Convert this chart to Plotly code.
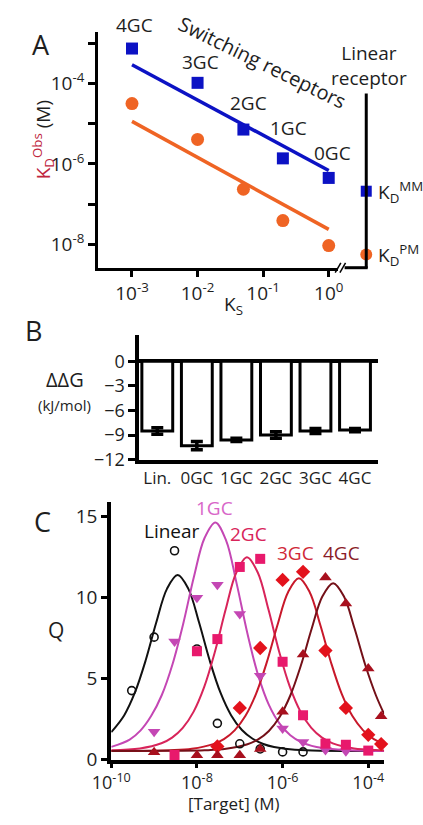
import plotly.graph_objects as go

W, H = 423, 825
FONT = "Open Sans"
INK = "#1e1e1e"

def fx(px):
    return px / W

def fy(py):
    return 1 - py / H

# ---------------- Panel A data ----------------
ks = [1e-3, 1e-2, 0.05, 0.2, 1.0]
ks_labels = ["4GC", "3GC", "2GC", "1GC", "0GC"]
kd_mm = [7.5e-4, 1.05e-4, 7.2e-6, 1.38e-6, 4.5e-7]
kd_pm = [3.2e-5, 4.1e-6, 2.35e-7, 3.9e-8, 9.3e-9]
fit_ks = [1e-3, 1.0]
fit_mm = [2.95e-4, 6.9e-7]
fit_pm = [1.15e-5, 2.35e-8]
lin_cat = ["Linear receptor"]
lin_kd_mm = [2.1e-7]
lin_kd_pm = [5.6e-9]
a_ytick_vals = [1e-3, 1e-4, 1e-5, 1e-6, 1e-7, 1e-8]
a_ytick_text = ["", "10<sup>-4</sup>", "", "10<sup>-6</sup>", "", "10<sup>-8</sup>"]
a_xtick_vals = [1e-3, 1e-2, 1e-1, 1.0]
a_xtick_text = ["10<sup>-3</sup>", "10<sup>-2</sup>", "10<sup>-1</sup>", "10<sup>0</sup>"]

# ---------------- Panel B data ----------------
b_cats = ["Lin.", "0GC", "1GC", "2GC", "3GC", "4GC"]
b_ddg = [-8.5, -10.3, -9.6, -9.0, -8.5, -8.4]
b_err = [0.4, 0.5, 0.2, 0.4, 0.3, 0.2]
b_ytick = [0, -3, -6, -9, -12]

# ---------------- Panel C data ----------------
lin_conc = [3e-10, 1e-9, 3e-9, 1e-8, 3e-8, 1e-7, 3e-7, 1e-6, 3e-6]
lin_pts = [4.27, 7.57, 12.9, 6.84, 2.25, 0.99, 0.67, 0.49, 0.49]
g1_conc = [1e-9, 3e-9, 1e-8, 3e-8, 1e-7, 3e-7, 1e-6, 3e-6, 1e-5, 3e-5]
g1_pts = [1.74, 7.3, 10.0, 10.8, 9.0, 5.18, 1.94, 1.1, 0.6, 0.53]
g2_conc = [3e-9, 1e-8, 3e-8, 1e-7, 3e-7, 1e-6, 3e-6, 1e-5, 3e-5, 1e-4]
g2_pts = [0.3, 6.7, 7.45, 11.9, 12.4, 6.05, 2.75, 1.0, 0.93, 0.57]
g3_conc = [3e-8, 1e-7, 3e-7, 1e-6, 3e-6, 1e-5, 3e-5, 1e-4, 2e-4]
g3_pts = [0.83, 3.2, 6.9, 11.1, 11.6, 6.74, 3.2, 1.54, 0.97]
g4_conc = [1e-9, 1e-8, 3e-8, 1e-7, 3e-7, 1e-6, 3e-6, 1e-5, 3e-5, 1e-4, 2e-4]
g4_pts = [0.47, 0.28, 0.28, 0.28, 0.67, 2.96, 6.5, 11.25, 9.64, 5.63, 2.69]

lin_curve_exp = [-10.0, -9.7, -9.45, -9.2, -8.95, -8.7, -8.45, -8.2, -7.95, -7.7, -7.45, -7.2, -6.95, -6.7, -6.45, -6.2, -5.95, -5.45, -4.45, -3.63]
lin_curve_q = [1.71, 2.74, 4.14, 6.11, 8.47, 10.55, 11.40, 10.55, 8.47, 6.11, 4.14, 2.74, 1.84, 1.30, 0.98, 0.79, 0.69, 0.59, 0.55, 0.55]
g1_curve_exp = [-10.0, -9.57, -9.32, -9.07, -8.82, -8.57, -8.32, -8.07, -7.82, -7.57, -7.32, -7.07, -6.82, -6.57, -6.32, -6.07, -5.82, -5.57, -5.32, -5.07, -4.57, -3.63]
g1_curve_q = [0.80, 1.25, 1.80, 2.70, 4.00, 5.90, 8.40, 11.30, 13.70, 14.65, 13.54, 10.84, 7.78, 5.21, 3.39, 2.23, 1.52, 1.10, 0.86, 0.73, 0.61, 0.55]
g2_curve_exp = [-10.0, -9.33, -8.83, -8.58, -8.33, -8.08, -7.83, -7.58, -7.33, -7.08, -6.83, -6.58, -6.33, -6.08, -5.83, -5.58, -5.33, -5.08, -4.83, -4.58, -4.33, -3.83, -3.63]
g2_curve_q = [0.59, 0.70, 1.02, 1.37, 1.97, 2.96, 4.50, 6.67, 9.27, 11.56, 12.50, 11.56, 9.27, 6.67, 4.50, 2.96, 1.97, 1.37, 1.02, 0.82, 0.70, 0.60, 0.58]
g3_curve_exp = [-10.0, -9.0, -8.62, -8.12, -7.62, -7.37, -7.12, -6.87, -6.62, -6.37, -6.12, -5.87, -5.62, -5.37, -5.12, -4.87, -4.62, -4.37, -4.12, -3.87, -3.63]
g3_curve_q = [0.55, 0.56, 0.59, 0.68, 0.97, 1.28, 1.82, 2.70, 4.07, 6.01, 8.32, 10.36, 11.20, 10.36, 8.32, 6.01, 4.07, 2.70, 1.82, 1.28, 0.98]
g4_curve_exp = [-10.0, -8.5, -7.82, -7.32, -6.82, -6.57, -6.32, -6.07, -5.82, -5.57, -5.32, -5.07, -4.82, -4.57, -4.32, -4.07, -3.82, -3.63]
g4_curve_q = [0.55, 0.56, 0.59, 0.68, 0.96, 1.26, 1.78, 2.64, 3.97, 5.85, 8.10, 10.09, 10.90, 10.09, 8.10, 5.85, 3.97, 2.83]
c_xtick_vals = [1e-10, 1e-8, 1e-6, 1e-4]
c_xtick_text = ["10<sup>-10</sup>", "10<sup>-8</sup>", "10<sup>-6</sup>", "10<sup>-4</sup>"]
c_ytick = [0, 5, 10, 15]

BLUE = "#0c12c4"
ORANGE = "#ef6424"
C_LIN = "#111111"
C_1 = "#c447b4"
C_1L = "#d866c8"
C_2 = "#e8196c"
C_2L = "#d8245a"
C_3 = "#e3121c"
C_3L = "#c8182a"
C_4 = "#a8101e"
C_4L = "#741018"

fig = go.Figure()

# ---------- Panel A traces ----------
fig.add_trace(go.Scatter(x=fit_ks, y=fit_mm, mode="lines", line=dict(color=BLUE, width=3.5), xaxis="x", yaxis="y", showlegend=False))
fig.add_trace(go.Scatter(x=fit_ks, y=fit_pm, mode="lines", line=dict(color=ORANGE, width=3.5), xaxis="x", yaxis="y", showlegend=False))
fig.add_trace(go.Scatter(x=ks, y=kd_mm, mode="markers", marker=dict(symbol="square", size=12, color=BLUE), xaxis="x", yaxis="y", showlegend=False, cliponaxis=False))
fig.add_trace(go.Scatter(x=ks, y=kd_pm, mode="markers", marker=dict(symbol="circle", size=13, color=ORANGE), xaxis="x", yaxis="y", showlegend=False, cliponaxis=False))
fig.add_trace(go.Scatter(x=lin_cat, y=lin_kd_mm, mode="markers", marker=dict(symbol="square", size=11, color=BLUE), xaxis="x2", yaxis="y", showlegend=False, cliponaxis=False))
fig.add_trace(go.Scatter(x=lin_cat, y=lin_kd_pm, mode="markers", marker=dict(symbol="circle", size=12, color=ORANGE), xaxis="x2", yaxis="y", showlegend=False, cliponaxis=False))

# ---------- Panel B traces ----------
fig.add_trace(go.Bar(x=b_cats, y=b_ddg, width=0.78, marker=dict(color="white", line=dict(color="black", width=3)),
                     error_y=dict(type="data", array=b_err, color="black", thickness=3.5, width=6),
                     xaxis="x3", yaxis="y3", showlegend=False))

# ---------- Panel C traces ----------
curves = [
    (lin_curve_exp, lin_curve_q, C_LIN),
    (g1_curve_exp, g1_curve_q, C_1),
    (g2_curve_exp, g2_curve_q, C_2L),
    (g3_curve_exp, g3_curve_q, C_3L),
    (g4_curve_exp, g4_curve_q, C_4L),
]
for ex, q, col in curves:
    fig.add_trace(go.Scatter(x=[10 ** e for e in ex], y=q, mode="lines", line=dict(color=col, width=2, shape="spline", smoothing=1.0),
                             xaxis="x4", yaxis="y4", showlegend=False))

pts = [
    (lin_conc, lin_pts, dict(symbol="circle-open", size=8, color=C_LIN, line=dict(width=1.6, color=C_LIN))),
    (g1_conc, g1_pts, dict(symbol="triangle-down", size=11, color=C_1)),
    (g2_conc, g2_pts, dict(symbol="square", size=10, color=C_2)),
    (g3_conc, g3_pts, dict(symbol="diamond", size=11, color=C_3)),
    (g4_conc, g4_pts, dict(symbol="triangle-up", size=11, color=C_4)),
]
for xs, q, mk in pts:
    fig.add_trace(go.Scatter(x=xs, y=q, mode="markers", marker=mk, xaxis="x4", yaxis="y4", showlegend=False, cliponaxis=False))

tickfont = dict(family=FONT, size=19, color=INK)
axis_common = dict(showgrid=False, zeroline=False, linecolor="black", tickcolor="black", tickfont=tickfont)

fig.update_layout(
    width=W, height=H, margin=dict(l=0, r=0, t=0, b=0),
    paper_bgcolor="white", plot_bgcolor="rgba(0,0,0,0)",
    font=dict(family=FONT, color=INK),
    xaxis=dict(domain=[fx(83), fx(338)], anchor="y", type="log", range=[-3.517, 0.142],
               tickvals=a_xtick_vals, ticktext=a_xtick_text, ticks="outside", ticklen=6, tickwidth=3,
               showline=True, linewidth=3, **axis_common),
    yaxis=dict(domain=[fy(272), fy(33)], anchor="x", type="log", range=[-8.583, -2.725],
               tickvals=a_ytick_vals, ticktext=a_ytick_text, ticks="outside", ticklen=7, tickwidth=3,
               showline=True, linewidth=3, **axis_common),
    xaxis2=dict(domain=[fx(358), fx(378)], anchor="y", type="category", visible=False, range=[-0.5, 0.5]),
    xaxis3=dict(domain=[fx(127), fx(380)], anchor="y3", type="category", range=[-0.45, 5.57],
                ticks="", showline=True, linewidth=4, showgrid=False, zeroline=False, linecolor="black",
                tickfont=dict(family=FONT, size=17, color=INK)),
    yaxis3=dict(domain=[fy(467), fy(340)], anchor="x3", range=[-12, 3.24],
                tickvals=b_ytick, ticks="outside", ticklen=7, tickwidth=3, showline=True, linewidth=4,
                showgrid=False, zeroline=True, zerolinecolor="black", zerolinewidth=3.5,
                linecolor="black", tickcolor="black", tickfont=dict(family=FONT, size=18, color=INK)),
    xaxis4=dict(domain=[fx(97), fx(387)], anchor="y4", type="log", range=[-10, -3.63],
                tickvals=c_xtick_vals, ticktext=c_xtick_text, ticks="outside", ticklen=4, tickwidth=3,
                showline=True, linewidth=4, showgrid=False, zeroline=False, linecolor="black", tickcolor="black",
                tickfont=dict(family=FONT, size=18, color=INK)),
    yaxis4=dict(domain=[fy(772), fy(510)], anchor="x4", range=[0, 15.91],
                tickvals=c_ytick, ticks="outside", ticklen=6, tickwidth=3,
                showline=True, linewidth=4, **axis_common),
)

# ---------- shapes: linear receptor axis and axis break ----------
line_k = dict(color="black", width=3)
fig.add_shape(type="line", xref="paper", yref="paper", x0=fx(368), x1=fx(368), y0=fy(95), y1=fy(272.5), line=line_k)
fig.add_shape(type="line", xref="paper", yref="paper", x0=fx(345), x1=fx(369.5), y0=fy(272), y1=fy(272), line=line_k)
fig.add_shape(type="line", xref="paper", yref="paper", x0=fx(335), x1=fx(341), y0=fy(277), y1=fy(267), line=dict(color="black", width=1.5))
fig.add_shape(type="line", xref="paper", yref="paper", x0=fx(340), x1=fx(346), y0=fy(277), y1=fy(267), line=dict(color="black", width=1.5))

def ann(text, px, py, size, color=INK, angle=0, xanchor="center"):
    fig.add_annotation(text=text, x=fx(px), y=fy(py), xref="paper", yref="paper", showarrow=False,
                       font=dict(family=FONT, size=size, color=color), textangle=angle, xanchor=xanchor, yanchor="middle")

# Panel letters
ann("A", 22, 45, 27)
ann("B", 14, 336, 27)
ann("C", 24, 530, 27)

# Panel A labels
a_label_pos = [(122, 25), (192, 63), (243, 105), (285, 130), (332, 155)]
for lab, (px, py) in zip(ks_labels, a_label_pos):
    ann(lab, px, py, 19)
ann("Switching receptors", 258, 63, 20, angle=26)
ann("Linear<br>receptor", 371, 67, 19)
ann("K<sub>D</sub><sup>MM</sup>", 378, 195, 19, xanchor="left")
ann("K<sub>D</sub><sup>PM</sup>", 378, 259, 19, xanchor="left")
ann("K<sub>S</sub>", 227, 310, 19)
ann("<span style='color:#c0263e'>K<sub>D</sub><sup>Obs</sup></span> (M)", 24, 142, 19, angle=-90)

# Panel B labels
ann("\u0394\u0394G", 48, 386, 20)
ann("(kJ/mol)", 47, 411, 15)

# Panel C labels
ann("Q", 38, 640, 21)
ann("[Target] (M)", 227, 816, 17)
ann("Linear", 162, 539, 19, color=C_LIN)
ann("1GC", 207, 516, 19, color=C_1L)
ann("2GC", 243, 543, 19, color=C_2L)
ann("3GC", 293, 562, 19, color="#d02838")
ann("4GC", 342, 562, 19, color="#8a1c28")

fig.write_html("out.html", config={"displayModeBar": False}, post_script="document.body.style.margin='0px';")
